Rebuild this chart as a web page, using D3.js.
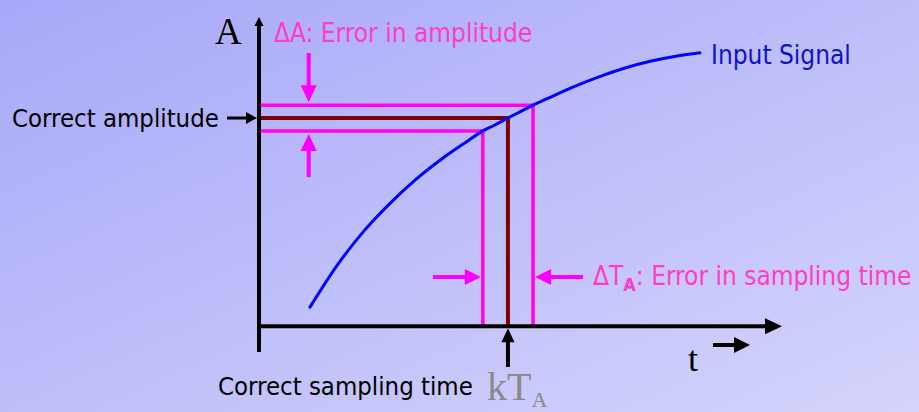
<!DOCTYPE html>
<html>
<head>
<meta charset="utf-8">
<script src="https://cdn.jsdelivr.net/npm/d3@7"></script>
<style>
  html, body { margin: 0; padding: 0; overflow: hidden; }
  svg { display: block; }
  .sans { font-family: "DejaVu Sans Condensed", "DejaVu Sans", sans-serif; font-stretch: condensed; }
  .serif { font-family: "Liberation Serif", "DejaVu Serif", serif; }
</style>
</head>
<body>
<svg id="chart" width="919" height="412"></svg>
<script>
// Input signal samples (time, amplitude) in arbitrary units
const signalTimes  = [9.75, 15, 20, 25, 30, 35, 40, 42.8, 45, 47.6, 50, 52.4, 55, 60, 65, 70, 75, 80, 84.3];
const signalValues = [3.7, 11.9, 18.4, 23.8, 28.5, 32.5, 36.0, 37.9, 39.0, 40.4, 41.65, 42.9, 44.1, 46.4, 48.4, 50.1, 51.45, 52.45, 53.05];

// Ideal sampling instant and amplitude, plus the error bands around them
const sampleTime = 47.6;
const sampleAmplitude = 40.4;
const timeBounds = [42.8, 52.4];
const amplitudeBounds = [37.9, 42.9];

// Axis extents
const timeDomain = [0, 100];
const amplitudeDomain = [-5, 60];

// Text labels
const axisLabelY = "A";
const axisLabelX = "t";
const signalLabel = "Input Signal";
const amplitudeLabel = "Correct amplitude";
const samplingLabel = "Correct sampling time";
const deltaALabel = "\u0394A: Error in amplitude";
const deltaTLabel = ["\u0394T", "A", ": Error in sampling time"];

const W = 919, H = 412;
const svg = d3.select("#chart");

// Background gradient
const defs = svg.append("defs");
const grad = defs.append("linearGradient").attr("id", "bg")
  .attr("x1", 0).attr("y1", 0).attr("x2", 1).attr("y2", 1);
grad.append("stop").attr("offset", "0%").attr("stop-color", "#a8a8f9");
grad.append("stop").attr("offset", "100%").attr("stop-color", "#d4d4fc");
svg.append("rect").attr("width", W).attr("height", H).attr("fill", "url(#bg)");

const x = d3.scaleLinear().domain(timeDomain).range([259, 782]);
const y = d3.scaleLinear().domain(amplitudeDomain).range([352, 17]);

const MAGENTA = "#ff00ff";
const MAROON = "#800000";
const PINK_TEXT = "#ff3cc8";

// Arrow helper: shaft from (x1,y1) to the head base, filled head ending at (x2,y2)
function arrow(g, x1, y1, x2, y2, color, width, headLen, headHalf) {
  const dx = x2 - x1, dy = y2 - y1;
  const len = Math.hypot(dx, dy);
  const ux = dx / len, uy = dy / len;
  const bx = x2 - ux * headLen, by = y2 - uy * headLen;
  g.append("line")
    .attr("x1", x1).attr("y1", y1).attr("x2", bx + ux).attr("y2", by + uy)
    .attr("stroke", color).attr("stroke-width", width);
  const px = -uy, py = ux;
  g.append("path")
    .attr("d", d3.line()([[x2, y2], [bx + px * headHalf, by + py * headHalf], [bx - px * headHalf, by - py * headHalf]]) + "Z")
    .attr("fill", color);
}

const g = svg.append("g");

// Error band (magenta) and correct sample (maroon) guide lines
const guide = d3.line().x(d => x(d[0])).y(d => y(d[1]));
g.append("path")
  .attr("d", guide([[0, amplitudeBounds[1]], [timeBounds[1], amplitudeBounds[1]], [timeBounds[1], 0]]))
  .attr("fill", "none").attr("stroke", MAGENTA).attr("stroke-width", 3.5);
g.append("path")
  .attr("d", guide([[0, amplitudeBounds[0]], [timeBounds[0], amplitudeBounds[0]], [timeBounds[0], 0]]))
  .attr("fill", "none").attr("stroke", MAGENTA).attr("stroke-width", 3.5);
g.append("path")
  .attr("d", guide([[0, sampleAmplitude], [sampleTime, sampleAmplitude], [sampleTime, 0]]))
  .attr("fill", "none").attr("stroke", MAROON).attr("stroke-width", 4);

// Input signal curve
const signal = d3.line().curve(d3.curveMonotoneX)
  .x((d, i) => x(signalTimes[i])).y(d => y(d));
g.append("path").datum(signalValues)
  .attr("d", signal)
  .attr("fill", "none").attr("stroke", "#0000ff").attr("stroke-width", 3)
  .attr("stroke-linecap", "round");

// Axes (no ticks), drawn through d3 axes and capped with arrowheads
const xAxis = g.append("g").attr("transform", `translate(0,${y(0)})`)
  .call(d3.axisBottom(x).tickValues([]).tickSizeOuter(0));
xAxis.select(".domain").attr("stroke", "#000").attr("stroke-width", 4)
  .attr("d", `M${x(0) - 2},0H${x(timeDomain[1]) - 14}`);
arrow(g, x(timeDomain[1]) - 16, y(0), x(timeDomain[1]), y(0), "#000", 4, 17, 8);

const yAxis = g.append("g").attr("transform", `translate(${x(0)},0)`)
  .call(d3.axisLeft(y).tickValues([]).tickSizeOuter(0));
yAxis.select(".domain").attr("stroke", "#000").attr("stroke-width", 4)
  .attr("d", `M0,${y(amplitudeDomain[0])}V${y(amplitudeDomain[1]) + 7}`);
arrow(g, x(0), y(amplitudeDomain[1]) + 9, x(0), y(amplitudeDomain[1]), "#000", 4, 9, 4.5);

// Axis titles
g.append("text").attr("class", "serif").attr("x", 215).attr("y", 44)
  .attr("font-size", 37).attr("fill", "#000").text(axisLabelY);
g.append("text").attr("class", "serif").attr("x", 688).attr("y", 371)
  .attr("font-size", 36).attr("fill", "#000").text(axisLabelX);
arrow(g, 713, 345, 750, 345, "#000", 4, 16, 8);

// Amplitude error markers
const ax = x(9.5);
arrow(g, ax, 53, ax, y(amplitudeBounds[1]) - 3, MAGENTA, 4, 17, 8);
arrow(g, ax, 177, ax, y(amplitudeBounds[0]) + 3, MAGENTA, 4, 17, 8);
g.append("text").attr("class", "sans").attr("x", 274).attr("y", 42)
  .attr("font-size", 26).attr("fill", PINK_TEXT).text(deltaALabel);

// Correct amplitude marker
arrow(g, 227, y(sampleAmplitude), x(0) - 2, y(sampleAmplitude), "#000", 3, 11, 6);
g.append("text").attr("class", "sans").attr("x", 12).attr("y", 127)
  .attr("font-size", 25.5).attr("fill", "#000").text(amplitudeLabel);

// Sampling time error markers
arrow(g, 433, 277, x(timeBounds[0]) - 2, 277, MAGENTA, 4, 16, 8);
arrow(g, 583, 277, x(timeBounds[1]) + 2, 277, MAGENTA, 4, 16, 8);
const dt = g.append("text").attr("class", "sans").attr("x", 593).attr("y", 285)
  .attr("font-size", 26).attr("fill", PINK_TEXT);
dt.append("tspan").text(deltaTLabel[0]);
dt.append("tspan").attr("dy", 6).attr("font-size", 18).attr("font-weight", "bold").text(deltaTLabel[1]);
dt.append("tspan").attr("dy", -6).text(deltaTLabel[2]);

// Correct sampling time marker
arrow(g, x(sampleTime), 367, x(sampleTime), y(0) + 2, "#000", 4, 14, 6.5);
g.append("text").attr("class", "sans").attr("x", 218).attr("y", 395)
  .attr("font-size", 25.5).attr("fill", "#000").text(samplingLabel);
const kt = g.append("text").attr("class", "serif").attr("x", 487).attr("y", 400)
  .attr("font-size", 40).attr("fill", "#8a8a8a");
kt.append("tspan").text("kT");
kt.append("tspan").attr("dy", 7).attr("font-size", 22).text("A");

// Signal label
g.append("text").attr("class", "sans").attr("x", 711).attr("y", 64)
  .attr("font-size", 26).attr("fill", "#1111cc").text(signalLabel);
</script>
</body>
</html>
